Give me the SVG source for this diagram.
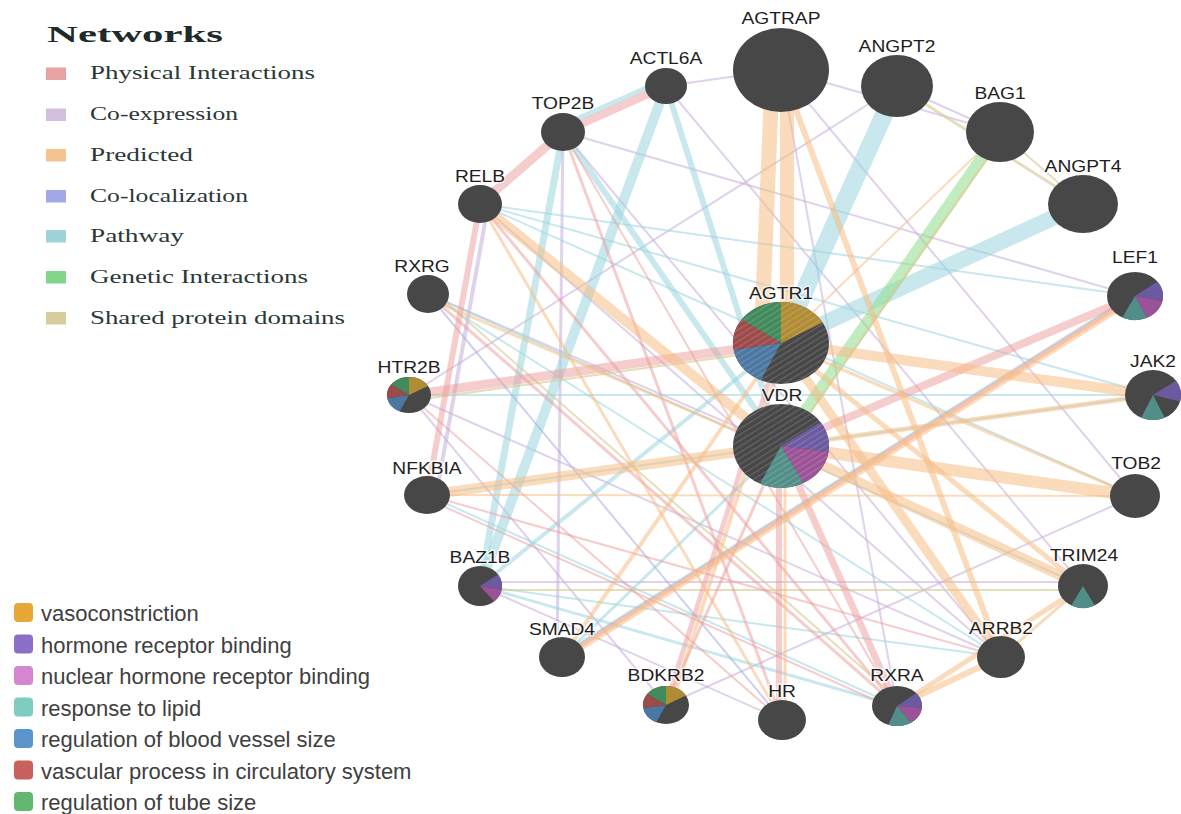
<svg xmlns="http://www.w3.org/2000/svg" width="1181" height="814" viewBox="0 0 1181 814">
<style>
.e line{fill:none}
.pr{stroke:#f5bd85;stroke-opacity:.55}
.ph{stroke:#eb9c9c;stroke-opacity:.5}
.ce{stroke:#c4add8;stroke-opacity:.55}
.pw{stroke:#9bd5de;stroke-opacity:.55}
.gi{stroke:#8ddc8d;stroke-opacity:.55}
.sd{stroke:#d6cc98;stroke-opacity:.65}
.cl{stroke:#a5ace3;stroke-opacity:.55}
.nd{fill:#474747}
.lb{font-family:"Liberation Sans",Arial,sans-serif;font-size:16px;fill:#1e1e1e;text-anchor:middle;stroke:#fff;stroke-width:3px;stroke-opacity:.6;paint-order:stroke}
.lt{font-family:"Liberation Serif","Times New Roman",serif;font-weight:bold;font-size:24px;fill:#1f2a2a}
.li{font-family:"Liberation Serif","Times New Roman",serif;font-size:18px;fill:#2b3838}
.fl{font-family:"Liberation Sans",Arial,sans-serif;font-size:22px;fill:#404040}
.gold{fill:#b08c34}.green{fill:#418a5b}.red{fill:#9c4a4a}.blue{fill:#4b78a2}.purple{fill:#6b5aa0}.pink{fill:#9c5296}.teal{fill:#528e88}
</style>
<defs>
<pattern id="hatch" patternUnits="userSpaceOnUse" width="5" height="5" patternTransform="rotate(-32)">
<rect width="5" height="1.3" fill="#fff" fill-opacity="0.16"/>
</pattern>
</defs>
<rect width="1181" height="814" fill="#fff"/>

<g id="legend-networks">
<text class="lt" x="47" y="42" textLength="176" lengthAdjust="spacingAndGlyphs">Networks</text>
<rect x="46" y="67.5" width="20" height="12.5" fill="#e8a4a4"/>
<text class="li" x="90" y="79" textLength="225" lengthAdjust="spacingAndGlyphs">Physical Interactions</text>
<rect x="46" y="108.5" width="20" height="12.5" fill="#d4bfe0"/>
<text class="li" x="90" y="120" textLength="148" lengthAdjust="spacingAndGlyphs">Co-expression</text>
<rect x="46" y="149" width="20" height="12.5" fill="#f3c48f"/>
<text class="li" x="90" y="160.5" textLength="103" lengthAdjust="spacingAndGlyphs">Predicted</text>
<rect x="46" y="190" width="20" height="12.5" fill="#a3a9e8"/>
<text class="li" x="90" y="201.5" textLength="158" lengthAdjust="spacingAndGlyphs">Co-localization</text>
<rect x="46" y="230" width="20" height="12.5" fill="#9fd3db"/>
<text class="li" x="90" y="241.5" textLength="94" lengthAdjust="spacingAndGlyphs">Pathway</text>
<rect x="46" y="271" width="20" height="12.5" fill="#82d68a"/>
<text class="li" x="90" y="282.5" textLength="218" lengthAdjust="spacingAndGlyphs">Genetic Interactions</text>
<rect x="46" y="312" width="20" height="12.5" fill="#d6cc9c"/>
<text class="li" x="90" y="323.5" textLength="255" lengthAdjust="spacingAndGlyphs">Shared protein domains</text>
</g>

<g id="legend-functions">
<rect x="14" y="603" width="19" height="19" rx="4" fill="#e8a838"/>
<text class="fl" x="41" y="621">vasoconstriction</text>
<rect x="14" y="634.5" width="19" height="19" rx="4" fill="#8b6fc8"/>
<text class="fl" x="41" y="652.5">hormone receptor binding</text>
<rect x="14" y="666" width="19" height="19" rx="4" fill="#d486d0"/>
<text class="fl" x="41" y="684">nuclear hormone receptor binding</text>
<rect x="14" y="697.5" width="19" height="19" rx="4" fill="#7ecdc0"/>
<text class="fl" x="41" y="715.5">response to lipid</text>
<rect x="14" y="729" width="19" height="19" rx="4" fill="#5b95cc"/>
<text class="fl" x="41" y="747">regulation of blood vessel size</text>
<rect x="14" y="760.5" width="19" height="19" rx="4" fill="#c8615e"/>
<text class="fl" x="41" y="778.5">vascular process in circulatory system</text>
<rect x="14" y="792" width="19" height="19" rx="4" fill="#62b870"/>
<text class="fl" x="41" y="810">regulation of tube size</text>
</g>

<g id="connectors" class="e">
<!-- co-expression -->
<line class="ce" stroke-width="2" x1="666" y1="86" x2="781" y2="70"/>
<line class="ce" stroke-width="2" x1="666" y1="86" x2="1083" y2="586"/>
<line class="ce" stroke-width="3" x1="563" y1="132" x2="557" y2="657"/>
<line class="ce" stroke-width="2" x1="563" y1="132" x2="1135" y2="296"/>
<line class="ce" stroke-width="2" x1="409" y1="395" x2="897" y2="86"/>
<line class="ce" stroke-width="2" x1="781" y1="70" x2="1000" y2="132"/>
<line class="ce" stroke-width="2" x1="897" y1="86" x2="1000" y2="132"/>
<line class="ce" stroke-width="4" x1="488" y1="206" x2="436" y2="496"/>
<line class="ce" stroke-width="2" x1="480" y1="586" x2="782" y2="720"/>
<line class="ce" stroke-width="2" x1="409" y1="395" x2="666" y2="705"/>
<line class="ce" stroke-width="2" x1="1135" y1="496" x2="666" y2="705"/>
<line class="ce" stroke-width="2" x1="480" y1="582" x2="1083" y2="582"/>
<line class="ce" stroke-width="2" x1="1001" y1="657" x2="409" y2="395"/>
<line class="ce" stroke-width="2" x1="428" y1="294" x2="781" y2="446"/>
<line class="ce" stroke-width="2" x1="781" y1="70" x2="897" y2="706"/>
<line class="ce" stroke-width="2" x1="781" y1="70" x2="1135" y2="496"/>
<line class="ce" stroke-width="2" x1="480" y1="204" x2="1001" y2="657"/>
<line class="ce" stroke-width="2" x1="563" y1="132" x2="1001" y2="657"/>
<!-- pathway -->
<line class="pw" stroke-width="2" x1="480" y1="204" x2="1135" y2="296"/>
<line class="pw" stroke-width="2" x1="480" y1="204" x2="1153" y2="395"/>
<line class="pw" stroke-width="2" x1="480" y1="204" x2="1135" y2="496"/>
<line class="pw" stroke-width="3" x1="562" y1="657" x2="781" y2="446"/>
<line class="pw" stroke-width="3" x1="480" y1="586" x2="897" y2="706"/>
<line class="pw" stroke-width="2" x1="480" y1="586" x2="1001" y2="657"/>
<line class="pw" stroke-width="2" x1="409" y1="395" x2="1153" y2="395"/>
<line class="pw" stroke-width="2" x1="427" y1="495" x2="1153" y2="395"/>
<line class="pw" stroke-width="2" x1="428" y1="294" x2="1083" y2="586"/>
<line class="pw" stroke-width="3" x1="566" y1="652" x2="1139" y2="291"/>
<line class="pw" stroke-width="4" x1="480" y1="586" x2="781" y2="343"/>
<line class="pw" stroke-width="2" x1="428" y1="294" x2="1001" y2="657"/>
<line class="pw" stroke-width="2" x1="427" y1="495" x2="897" y2="706"/>
<line class="pw" stroke-width="6" x1="563" y1="132" x2="781" y2="446"/>
<line class="pw" stroke-width="6" x1="666" y1="86" x2="781" y2="446"/>
<line class="pw" stroke-width="7" x1="563" y1="132" x2="480" y2="586"/>
<line class="pw" stroke-width="10" x1="666" y1="86" x2="480" y2="586"/>
<line class="pw" stroke-width="5" x1="664" y1="80" x2="561" y2="126"/>
<line class="pw" stroke-width="18" x1="897" y1="86" x2="781" y2="343"/>
<line class="pw" stroke-width="16" x1="1083" y1="204" x2="781" y2="343"/>
<!-- shared domains / colocalization -->
<line class="sd" stroke-width="3" x1="897" y1="86" x2="1083" y2="204"/>
<line class="sd" stroke-width="2" x1="1000" y1="132" x2="1083" y2="204"/>
<line class="sd" stroke-width="2" x1="432" y1="290" x2="901" y2="702"/>
<line class="sd" stroke-width="2" x1="480" y1="590" x2="1083" y2="590"/>
<line class="sd" stroke-width="2" x1="409" y1="401" x2="781" y2="349"/>
<line class="cl" stroke-width="2" x1="428" y1="294" x2="782" y2="720"/>
<!-- physical -->
<line class="ph" stroke-width="8" x1="666" y1="86" x2="563" y2="132"/>
<line class="ph" stroke-width="9" x1="563" y1="132" x2="480" y2="204"/>
<line class="ph" stroke-width="6" x1="480" y1="204" x2="427" y2="495"/>
<line class="ph" stroke-width="9" x1="409" y1="395" x2="781" y2="343"/>
<line class="ph" stroke-width="8" x1="781" y1="446" x2="1135" y2="296"/>
<line class="ph" stroke-width="7" x1="781" y1="446" x2="897" y2="706"/>
<line class="ph" stroke-width="6" x1="779" y1="446" x2="779" y2="720"/>
<line class="ph" stroke-width="5" x1="781" y1="343" x2="666" y2="705"/>
<line class="ph" stroke-width="5" x1="562" y1="657" x2="1135" y2="296"/>
<line class="ph" stroke-width="3" x1="428" y1="294" x2="897" y2="706"/>
<line class="ph" stroke-width="2" x1="427" y1="499" x2="897" y2="710"/>
<line class="ph" stroke-width="3" x1="563" y1="132" x2="782" y2="720"/>
<line class="ph" stroke-width="3" x1="480" y1="204" x2="897" y2="706"/>
<line class="ph" stroke-width="2" x1="1001" y1="657" x2="427" y2="495"/>
<line class="ph" stroke-width="2" x1="563" y1="132" x2="897" y2="706"/>
<line class="ph" stroke-width="2" x1="409" y1="395" x2="782" y2="720"/>
<line class="ph" stroke-width="3" x1="666" y1="705" x2="781" y2="446"/>
<!-- genetic -->
<line class="gi" stroke-width="12" x1="1000" y1="132" x2="781" y2="446"/>
<!-- predicted -->
<line class="pr" stroke-width="15" x1="772" y1="80" x2="762" y2="322"/>
<line class="pr" stroke-width="14" x1="787" y1="80" x2="787" y2="322"/>
<line class="pr" stroke-width="6" x1="781" y1="70" x2="1001" y2="657"/>
<line class="pr" stroke-width="10" x1="480" y1="204" x2="781" y2="446"/>
<line class="pr" stroke-width="10" x1="427" y1="495" x2="781" y2="446"/>
<line class="pr" stroke-width="10" x1="781" y1="343" x2="1153" y2="395"/>
<line class="pr" stroke-width="5" x1="781" y1="446" x2="1153" y2="395"/>
<line class="pr" stroke-width="12" x1="781" y1="446" x2="1135" y2="496"/>
<line class="pr" stroke-width="10" x1="781" y1="446" x2="1083" y2="586"/>
<line class="pr" stroke-width="5" x1="781" y1="343" x2="1083" y2="586"/>
<line class="pr" stroke-width="9" x1="781" y1="343" x2="1001" y2="657"/>
<line class="pr" stroke-width="5" x1="897" y1="706" x2="1083" y2="586"/>
<line class="pr" stroke-width="6" x1="897" y1="706" x2="1001" y2="657"/>
<line class="pr" stroke-width="6" x1="558" y1="662" x2="1131" y2="301"/>
<line class="pr" stroke-width="2" x1="1004" y1="134" x2="785" y2="448"/>
<line class="pr" stroke-width="2" x1="1000" y1="132" x2="781" y2="343"/>
<line class="pr" stroke-width="3" x1="781" y1="343" x2="1135" y2="496"/>
<line class="pr" stroke-width="3" x1="428" y1="298" x2="781" y2="450"/>
<line class="pr" stroke-width="4" x1="671" y1="706" x2="786" y2="344"/>
<line class="pr" stroke-width="4" x1="562" y1="657" x2="781" y2="343"/>
<line class="pr" stroke-width="3" x1="1001" y1="657" x2="1083" y2="586"/>
<line class="pr" stroke-width="3" x1="480" y1="204" x2="782" y2="720"/>
<line class="pr" stroke-width="3" x1="785" y1="446" x2="785" y2="720"/>
<line class="pr" stroke-width="2" x1="427" y1="495" x2="1135" y2="496"/>
</g>

<g id="n-AGTRAP"><ellipse class="nd" cx="781" cy="70" rx="48" ry="42"/><text class="lb" transform="translate(781,24) scale(1.2,1)">AGTRAP</text></g>
<g id="n-ANGPT2"><ellipse class="nd" cx="897" cy="86" rx="36" ry="31"/><text class="lb" transform="translate(897,52) scale(1.2,1)">ANGPT2</text></g>
<g id="n-BAG1"><ellipse class="nd" cx="1000" cy="132" rx="34" ry="30"/><text class="lb" transform="translate(1000,99) scale(1.2,1)">BAG1</text></g>
<g id="n-ANGPT4"><ellipse class="nd" cx="1083" cy="204" rx="35" ry="29"/><text class="lb" transform="translate(1083,171.5) scale(1.2,1)">ANGPT4</text></g>
<g id="n-LEF1"><ellipse class="nd" cx="1135" cy="296" rx="28" ry="24"/>
<path class="purple" d="M1135,296 L1157.36,281.56 A28,24 0 0 1 1162.39,300.99 Z"/>
<path class="pink" d="M1135,296 L1162.39,300.99 A28,24 0 0 1 1146.83,317.75 Z"/>
<path class="teal" d="M1135,296 L1146.83,317.75 A28,24 0 0 1 1122.29,317.38 Z"/>
<text class="lb" transform="translate(1135,263) scale(1.2,1)">LEF1</text></g>
<g id="n-JAK2"><ellipse class="nd" cx="1153" cy="395" rx="28" ry="25"/>
<path class="purple" d="M1153,395 L1175.94,380.66 A28,25 0 0 1 1180.05,401.47 Z"/>
<path class="teal" d="M1153,395 L1164.83,417.66 A28,25 0 0 1 1141.17,417.66 Z"/>
<text class="lb" transform="translate(1153,367) scale(1.2,1)">JAK2</text></g>
<g id="n-TOB2"><ellipse class="nd" cx="1135" cy="496" rx="25" ry="22"/><text class="lb" transform="translate(1136,469) scale(1.2,1)">TOB2</text></g>
<g id="n-TRIM24"><ellipse class="nd" cx="1083" cy="586" rx="25" ry="22"/>
<path class="teal" d="M1083,586 L1094.74,605.42 A25,22 0 0 1 1071.26,605.42 Z"/>
<text class="lb" transform="translate(1084,561) scale(1.2,1)">TRIM24</text></g>
<g id="n-ARRB2"><ellipse class="nd" cx="1001" cy="657" rx="24" ry="21"/><text class="lb" transform="translate(1001,633.5) scale(1.2,1)">ARRB2</text></g>
<g id="n-RXRA"><ellipse class="nd" cx="897" cy="706" rx="25" ry="20"/>
<path class="purple" d="M897,706 L916.15,693.14 A25,20 0 0 1 921.9,707.74 Z"/>
<path class="pink" d="M897,706 L921.9,707.74 A25,20 0 0 1 911.34,722.38 Z"/>
<path class="teal" d="M897,706 L911.34,722.38 A25,20 0 0 1 888.45,724.79 Z"/>
<text class="lb" transform="translate(897,681) scale(1.2,1)">RXRA</text></g>
<g id="n-HR"><ellipse class="nd" cx="782" cy="720" rx="24" ry="20"/><text class="lb" transform="translate(782,697) scale(1.2,1)">HR</text></g>
<g id="n-BDKRB2"><ellipse class="nd" cx="666" cy="705" rx="23" ry="19"/>
<path class="green" d="M666,705 L647.16,694.1 A23,19 0 0 1 666,686 Z"/>
<path class="gold" d="M666,705 L666,686 A23,19 0 0 1 685.92,695.5 Z"/>
<path class="blue" d="M666,705 L656.28,722.22 A23,19 0 0 1 643.35,708.3 Z"/>
<path class="red" d="M666,705 L643.35,708.3 A23,19 0 0 1 647.16,694.1 Z"/>
<text class="lb" transform="translate(666,681) scale(1.2,1)">BDKRB2</text></g>
<g id="n-SMAD4"><ellipse class="nd" cx="562" cy="657" rx="23" ry="20"/><text class="lb" transform="translate(562,635) scale(1.2,1)">SMAD4</text></g>
<g id="n-BAZ1B"><ellipse class="nd" cx="480" cy="586" rx="22" ry="20"/>
<path class="purple" d="M480,586 L498.02,574.53 A22,20 0 0 1 501.67,589.47 Z"/>
<path class="pink" d="M480,586 L501.67,589.47 A22,20 0 0 1 494.14,601.32 Z"/>
<text class="lb" transform="translate(480,563) scale(1.2,1)">BAZ1B</text></g>
<g id="n-NFKBIA"><ellipse class="nd" cx="427" cy="495" rx="23" ry="19"/><text class="lb" transform="translate(427,474) scale(1.2,1)">NFKBIA</text></g>
<g id="n-HTR2B"><ellipse class="nd" cx="409" cy="395" rx="22" ry="18"/>
<path class="green" d="M409,395 L390.98,384.68 A22,18 0 0 1 409,377 Z"/>
<path class="gold" d="M409,395 L409,377 A22,18 0 0 1 428.05,386 Z"/>
<path class="blue" d="M409,395 L399.7,411.31 A22,18 0 0 1 387.33,398.13 Z"/>
<path class="red" d="M409,395 L387.33,398.13 A22,18 0 0 1 390.98,384.68 Z"/>
<text class="lb" transform="translate(409,372.5) scale(1.2,1)">HTR2B</text></g>
<g id="n-RXRG"><ellipse class="nd" cx="428" cy="294" rx="21" ry="19"/><text class="lb" transform="translate(422,272) scale(1.2,1)">RXRG</text></g>
<g id="n-RELB"><ellipse class="nd" cx="480" cy="204" rx="22" ry="19"/><text class="lb" transform="translate(480,182) scale(1.2,1)">RELB</text></g>
<g id="n-TOP2B"><ellipse class="nd" cx="563" cy="132" rx="22" ry="19"/><text class="lb" transform="translate(563,109) scale(1.2,1)">TOP2B</text></g>
<g id="n-ACTL6A"><ellipse class="nd" cx="666" cy="86" rx="21" ry="18"/><text class="lb" transform="translate(666,64) scale(1.2,1)">ACTL6A</text></g>
<g id="n-AGTR1"><ellipse class="nd" cx="781" cy="343" rx="48" ry="41"/>
<path class="green" d="M781,343 L741.68,319.48 A48,41 0 0 1 781,302 Z"/>
<path class="gold" d="M781,343 L781,302 A48,41 0 0 1 822.57,322.5 Z"/>
<path class="blue" d="M781,343 L760.72,380.16 A48,41 0 0 1 733.73,350.12 Z"/>
<path class="red" d="M781,343 L733.73,350.12 A48,41 0 0 1 741.68,319.48 Z"/>
<ellipse cx="781" cy="343" rx="48" ry="41" fill="url(#hatch)"/>
<text class="lb" transform="translate(781,299) scale(1.2,1)">AGTR1</text></g>
<g id="n-VDR"><ellipse class="nd" cx="781" cy="446" rx="48" ry="42"/>
<path class="purple" d="M781,446 L820.32,421.91 A48,42 0 0 1 828.53,451.85 Z"/>
<path class="pink" d="M781,446 L828.53,451.85 A48,42 0 0 1 803.54,483.08 Z"/>
<path class="teal" d="M781,446 L803.54,483.08 A48,42 0 0 1 759.96,483.75 Z"/>
<ellipse cx="781" cy="446" rx="48" ry="42" fill="url(#hatch)"/>
<text class="lb" transform="translate(782,400.5) scale(1.2,1)">VDR</text></g>
</svg>
